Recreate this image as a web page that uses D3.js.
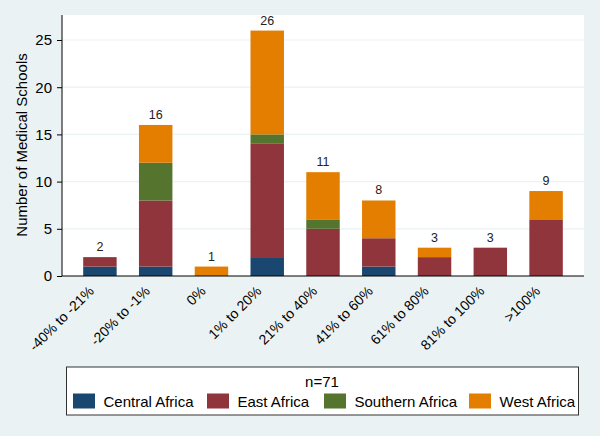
<!DOCTYPE html>
<html><head><meta charset="utf-8">
<script src="https://cdn.jsdelivr.net/npm/d3@7"></script>
<style>body{margin:0;background:#eaf2f3;}svg{display:block;font-family:"Liberation Sans",Arial,sans-serif;}</style>
</head><body>
<svg id="c" width="600" height="436"></svg>
<script>
const categories = ["-40% to -21%","-20% to -1%","0%","1% to 20%","21% to 40%","41% to 60%","61% to 80%","81% to 100%",">100%"];
const seriesNames = ["Central Africa","East Africa","Southern Africa","West Africa"];
const central  = [1,1,0,2,0,1,0,0,0];
const east     = [1,7,0,12,5,3,2,3,6];
const southern = [0,4,0,1,1,0,0,0,0];
const west     = [0,4,1,11,5,4,1,0,3];
const colors = ["#1a476f","#90353b","#55752f","#e37e00"];
const yTicks = [0,5,10,15,20,25];
const legendTitle = "n=71";
const yTitle = "Number of Medical Schools";

const svg = d3.select("#c");
svg.append("rect").attr("width",600).attr("height",436).attr("fill","#eaf2f3");
const m = {l:62, r:584, t:15, b:276};
const x = d3.scaleBand().domain(categories).range([m.l,m.r]).paddingInner(0.4).paddingOuter(0.38);
const y = d3.scaleLinear().domain([0,27.65]).range([m.b,m.t]);

svg.append("rect").attr("x",m.l).attr("y",m.t).attr("width",m.r-m.l).attr("height",m.b-m.t).attr("fill","#fff");
svg.append("g").selectAll("line").data(yTicks.slice(1)).join("line")
  .attr("x1",m.l).attr("x2",m.r).attr("y1",d=>y(d)).attr("y2",d=>y(d))
  .attr("stroke","#eaf2f3").attr("stroke-width",1.2);

const rows = categories.map((c,i)=>({cat:c,"Central Africa":central[i],"East Africa":east[i],"Southern Africa":southern[i],"West Africa":west[i]}));
const stack = d3.stack().keys(seriesNames)(rows);
svg.append("g").selectAll("g").data(stack).join("g").attr("fill",(d,i)=>colors[i])
  .selectAll("rect").data(d=>d.filter(s=>s[1]>s[0])).join("rect")
  .attr("x",d=>x(d.data.cat)).attr("width",x.bandwidth())
  .attr("y",d=>y(d[1])).attr("height",d=>y(d[0])-y(d[1]));

const totals = categories.map((c,i)=>central[i]+east[i]+southern[i]+west[i]);
svg.append("g").selectAll("text").data(categories).join("text")
  .attr("x",d=>x(d)+x.bandwidth()/2).attr("y",(d,i)=>y(totals[i])-6)
  .attr("text-anchor","middle").attr("font-size",12.5).attr("fill","#222")
  .text((d,i)=>totals[i]);

const ya = svg.append("g").attr("transform",`translate(${m.l},0)`)
  .call(d3.axisLeft(y).tickValues(yTicks).tickSize(5).tickPadding(5));
ya.select(".domain").attr("d",`M0,${m.t}V${m.b}`).attr("stroke","#000");
ya.selectAll("text").attr("font-size",15).attr("fill","#000").attr("font-family","Liberation Sans, Arial, sans-serif");
ya.selectAll(".tick line").attr("stroke","#000");

const xa = svg.append("g").attr("transform",`translate(0,${m.b})`)
  .call(d3.axisBottom(x).tickSize(0).tickPadding(0));
xa.select(".domain").attr("d",`M${m.l},0H${m.r}`).attr("stroke","#000");
xa.selectAll("text").attr("font-size",14).attr("fill","#000").attr("font-family","Liberation Sans, Arial, sans-serif")
  .attr("text-anchor","end").attr("dy",null).attr("y",0)
  .attr("transform","translate(-5,16) rotate(-45)");

svg.append("text").attr("transform","translate(27,145) rotate(-90)")
  .attr("text-anchor","middle").attr("font-size",15).attr("fill","#000").text(yTitle);

const lg = svg.append("g");
lg.append("rect").attr("x",66.5).attr("y",367).attr("width",512).attr("height",48)
  .attr("fill","#fff").attr("stroke","#333").attr("stroke-width",1);
lg.append("text").attr("x",322).attr("y",386.5).attr("text-anchor","middle").attr("font-size",15).attr("fill","#000").text(legendTitle);
const legX = [73,207,324,469];
seriesNames.forEach((s,i)=>{
  lg.append("rect").attr("x",legX[i]).attr("y",393.5).attr("width",22).attr("height",15).attr("fill",colors[i]);
  lg.append("text").attr("x",legX[i]+30.5).attr("y",406.5).attr("font-size",15).attr("fill","#000").text(s);
});
</script>
</body></html>
